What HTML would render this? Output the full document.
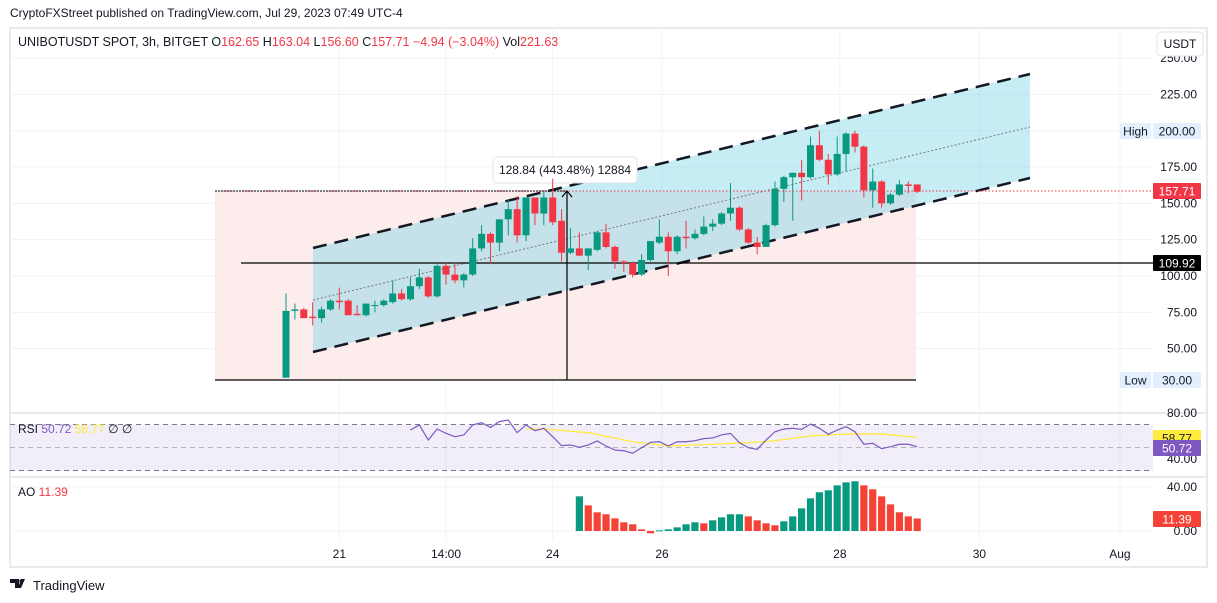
<!DOCTYPE html>
<html><head><meta charset="utf-8">
<style>
html,body{margin:0;padding:0;background:#fff;width:1217px;height:603px;overflow:hidden}
svg{display:block;font-family:"Liberation Sans",sans-serif}
</style></head>
<body>
<svg id="chart" width="1217" height="603" viewBox="0 0 1217 603" xmlns="http://www.w3.org/2000/svg">
<text x="10" y="17" font-size="12" fill="#131722">CryptoFXStreet published on TradingView.com, Jul 29, 2023 07:49 UTC-4</text>
<rect x="10" y="28" width="1197" height="539" fill="none" stroke="#e0e3eb" stroke-width="1.5"/>
<g id="grid"></g>
<g id="drawings"></g>
<g id="candles"></g>
<g id="rsi"></g>
<g id="ao"></g>
<g id="axes"></g>
<g font-size="12.5">
<text x="18" y="46" fill="#131722">UNIBOTUSDT SPOT, 3h, BITGET <tspan fill="#131722">O</tspan><tspan fill="#f23645">162.65</tspan> <tspan fill="#131722">H</tspan><tspan fill="#f23645">163.04</tspan> <tspan fill="#131722">L</tspan><tspan fill="#f23645">156.60</tspan> <tspan fill="#131722">C</tspan><tspan fill="#f23645">157.71</tspan> <tspan fill="#f23645">−4.94 (−3.04%)</tspan> <tspan fill="#131722">Vol</tspan><tspan fill="#f23645">221.63</tspan></text>
</g>
<rect x="1157" y="32" width="46" height="24" rx="4" fill="#fff" stroke="#e0e3eb"/>
<text x="1180" y="48" font-size="12" text-anchor="middle" fill="#131722">USDT</text>
<text x="18" y="433" font-size="12" fill="#131722">RSI <tspan fill="#7e57c2">50.72</tspan> <tspan fill="#ffeb3b">58.77</tspan> <tspan fill="#131722">∅ ∅</tspan></text>
<text x="18" y="496" font-size="12" fill="#131722">AO <tspan fill="#f23645">11.39</tspan></text>
<g>
<path d="M10 579h9v9h-4v-5h-5z M21 579h4l-4 9h-3z" fill="#131722"/>
<circle cx="21" cy="581" r="1.6" fill="#131722"/>
<text x="33" y="590" font-size="13" fill="#131722">TradingView</text>
</g>
</svg>
<script>
const opens=[30,76,77,72,71,77,83,83,74,73,80,80,82,88,84,93,99,86,107,101,97,101,119,129,123,139,146,128,154,143,154,138,116,119,114,118,130,120,110,109,101,111,123,127,117,127,126,129,134,136,143,147,132,123,120,135,160,168,171,168,190,180,170,184,198,189,159,165,150,156,163,163];
const highs=[88,81,78,82,79,84,92,84,80,81,83,84,97,91,99,105,100,108,109,109,102,126,135,130,139,153,155,154,154,158,167,146,133,130,119,131,136,121,111,110,115,124,139,130,128,138,132,141,139,144,164,148,133,127,136,165,169,171,180,196,200,184,196,199,200,190,174,166,157,166,165,163];
const lows=[30,70,71,66,68,76,77,73,73,72,75,79,81,83,83,91,85,85,94,95,92,100,117,108,117,128,123,124,135,135,135,110,115,114,104,117,119,105,103,99,100,110,122,100,115,119,125,128,131,135,138,131,122,115,120,134,151,138,152,167,179,163,169,172,185,154,147,147,149,155,157,157];
const closes=[76,77,71,71,77,83,82,73,73,81,80,83,88,84,93,99,86,107,101,97,101,119,129,123,139,146,128,154,143,154,137,116,119,114,119,130,120,110,109,101,111,124,127,117,127,126,129,134,136,143,147,132,123,120,135,160,168,171,168,190,180,170,184,198,189,159,165,150,156,163,162,158];
const rsiValues=[65.2,69.6,56.5,66.1,62.3,59.4,60.9,69.6,71.6,67.5,72.5,73.9,62.9,69.6,64.6,66.7,59.4,51.6,52.2,50.1,52.2,55.7,51.3,47.8,47.2,45,49.8,54.5,55,51.3,55,55,55.9,57.7,58.3,60.9,62.3,54.2,49.8,48.4,56.5,63.7,66.1,66.7,65.8,70.4,66.7,61.5,65.2,68.1,63.7,52.8,53.7,49,50.7,52.8,52.8,50.72];
const rsiStart=14;
const maIndex=[13,15,20,25,29,34,40,45,49,53,57];
const maValues=[66.1,66.1,62.9,55,51.3,52.8,55,60,61.7,61.7,58.77];
const aoValues=[31.5,23.3,17,15.2,11.5,7.9,6.1,1.5,-2.1,0.6,1.5,3.3,6.1,7.9,7,9.7,12.4,15.2,15.2,13.3,9.7,7,5.2,8.8,13.3,20.6,29.7,35.2,37,41.5,44.2,45.2,41.5,37.9,31.5,24.2,17,13.3,11.39];
const aoStart=33;
const priceTicks=[250,225,200,175,150,125,100,75,50];
const priceTickLabels=["250.00","225.00","200.00","175.00","150.00","125.00","100.00","75.00","50.00"];
const dateLabels=["21","14:00","24","26","28","30","Aug"];
const dateIdx=[6,18,30,42.3,62.3,78,93.8];

const NS="http://www.w3.org/2000/svg";
const xS=i=>286+i*8.89;
const yP=p=>276-(p-100)*1.453;
const yR=v=>459-(v-40)*1.15;
const yA=v=>531-v*1.1;
function mk(parent,tag,attrs){const e=document.createElementNS(NS,tag);for(const k in attrs)e.setAttribute(k,attrs[k]);document.getElementById(parent).appendChild(e);return e;}

// grid
priceTicks.forEach((p,i)=>{
 const l=mk('grid','line',{x1:10,x2:1153,y1:yP(p),y2:yP(p),stroke:'#f0f3fa'});
 
 
 const t=mk('axes','text',{x:1197,y:yP(p)+4,'font-size':12,'text-anchor':'end',fill:'#131722'});
 t.textContent=priceTickLabels[i];
 
 
});
dateLabels.forEach((d,i)=>{
 const x=xS(dateIdx[i]);
 const l=mk('grid','line',{x1:x,x2:x,y1:28,y2:540,stroke:'#f0f3fa'});
 
 
 const t=mk('axes','text',{x:x,y:558,'font-size':12,'text-anchor':'middle',fill:'#131722'});
 t.textContent=d;
 
 
});
[413,477].forEach(y=>{const l=mk('grid','line',{x1:10,x2:1207,y1:y,y2:y,stroke:'#e0e3eb','stroke-width':1.5});
 
 });
[487].forEach(y=>{const l=mk('grid','line',{x1:10,x2:1153,y1:y,y2:y,stroke:'#f0f3fa'});
 
 });
{const l=mk('grid','line',{x1:10,x2:1153,y1:531,y2:531,stroke:'#f0f3fa'});
 
 }

// drawings
let e;
e=mk('drawings','rect',{x:215,y:191,width:701,height:189,fill:'#fdecec'});


e=mk('drawings','polygon',{points:'313,248 1030,74 1030,178 313,352',fill:'rgba(129,212,230,0.45)'});


e=mk('drawings','line',{x1:313,y1:248,x2:1030,y2:74,stroke:'#131722','stroke-width':2.5,'stroke-dasharray':'14 8'});


e=mk('drawings','line',{x1:313,y1:352,x2:1030,y2:178,stroke:'#131722','stroke-width':2.5,'stroke-dasharray':'14 8'});


e=mk('drawings','line',{x1:313,y1:300,x2:1030,y2:127,stroke:'#787b86','stroke-width':1,'stroke-dasharray':'2 2'});


e=mk('drawings','line',{x1:241,y1:263,x2:1153,y2:263,stroke:'#000','stroke-width':1.2});


e=mk('drawings','line',{x1:215,y1:191,x2:1153,y2:191,stroke:'#f23645','stroke-width':1,'stroke-dasharray':'1.5 2'});


e=mk('drawings','line',{x1:215,y1:191,x2:567,y2:191,stroke:'#000','stroke-width':1,'stroke-dasharray':'2 1'});


e=mk('drawings','line',{x1:215,y1:380,x2:916,y2:380,stroke:'#000','stroke-width':1.2});


e=mk('drawings','line',{x1:567,y1:191,x2:567,y2:380,stroke:'#000','stroke-width':1.2});


e=mk('drawings','path',{d:'M562 197 L567 191 L572 197',fill:'none',stroke:'#000','stroke-width':1.2});


e=mk('drawings','rect',{x:493,y:157,width:144,height:26,rx:4,fill:'#fff',stroke:'#e0e3eb'});


e=mk('drawings','text',{x:565,y:174,'font-size':12,'text-anchor':'middle',fill:'#131722'});
e.textContent='128.84 (443.48%) 12884';



// candles
opens.forEach((o,i)=>{
 const c=closes[i],x=xS(i),col=c>=o?'#089981':'#f23645';
 const w=mk('candles','line',{x1:x,x2:x,y1:yP(highs[i]),y2:yP(lows[i]),stroke:col,'stroke-width':1});
 
 
 const top=yP(Math.max(o,c)),bot=yP(Math.min(o,c));
 const b=mk('candles','rect',{x:x-3.5,y:top,width:7,height:Math.max(1,bot-top),fill:col});
 
 
});

// RSI
e=mk('rsi','rect',{x:10,y:yR(70),width:1143,height:yR(30)-yR(70),fill:'rgba(126,87,194,0.1)'});


[70,50,30].forEach(v=>{const l=mk('rsi','line',{x1:10,x2:1153,y1:yR(v),y2:yR(v),stroke:v==50?'#b2b5be':'#787b86','stroke-dasharray':'5 4'});
 
 });
e=mk('rsi','polyline',{points:maIndex.map((k,j)=>xS(rsiStart+k)+','+yR(maValues[j])).join(' '),fill:'none',stroke:'#ffeb3b','stroke-width':1.3});


e=mk('rsi','polyline',{points:rsiValues.map((v,j)=>xS(rsiStart+j)+','+yR(v)).join(' '),fill:'none',stroke:'#7e57c2','stroke-width':1.2});



// AO
aoValues.forEach((v,j)=>{
 const prev=j>0?aoValues[j-1]:-Infinity;
 const col=v>=prev?'#089981':'#f44336';
 const y1=yA(Math.max(v,0)),y2=yA(Math.min(v,0));
 const r=mk('ao','rect',{x:xS(aoStart+j)-3.6,y:y1,width:7.2,height:Math.max(1,y2-y1),fill:col});
 
 
});

// axis labels
function tag(x,y,w,txt,bg,fg,name){
 const r=mk('axes','rect',{x:x,y:y,width:w,height:16,fill:bg,rx:1});
 
 
 const t=mk('axes','text',{x:x+w/2,y:y+12.5,'font-size':12,'text-anchor':'middle',fill:fg});
 t.textContent=txt;
 
 
}
tag(1120,123,31,'High','#e3effd','#131722','high-label');
tag(1153,123,48,'200.00','#e3effd','#131722','high-price');
tag(1120,372,31,'Low','#e3effd','#131722','low-label');
tag(1153,372,48,'30.00','#e3effd','#131722','low-price');
tag(1153,183,48,'157.71','#f23645','#fff','last-price-label');
tag(1153,255,48,'109.92','#000','#fff','line-price-label');
[[80,'80.00'],[40,'40.00']].forEach(a=>{const t=mk('axes','text',{x:1197,y:yR(a[0])+4,'font-size':12,'text-anchor':'end',fill:'#131722'});t.textContent=a[1];
 
 });
tag(1153,430,48,'58.77','#ffeb3b','#131722','rsi-ma-value');
tag(1153,440,48,'50.72','#7e57c2','#fff','rsi-value');
[[40,'40.00'],[0,'0.00']].forEach(a=>{const t=mk('axes','text',{x:1197,y:yA(a[0])+4,'font-size':12,'text-anchor':'end',fill:'#131722'});t.textContent=a[1];
 
 });
tag(1153,511,48,'11.39','#f44336','#fff','ao-value');
</script>
</body></html>
